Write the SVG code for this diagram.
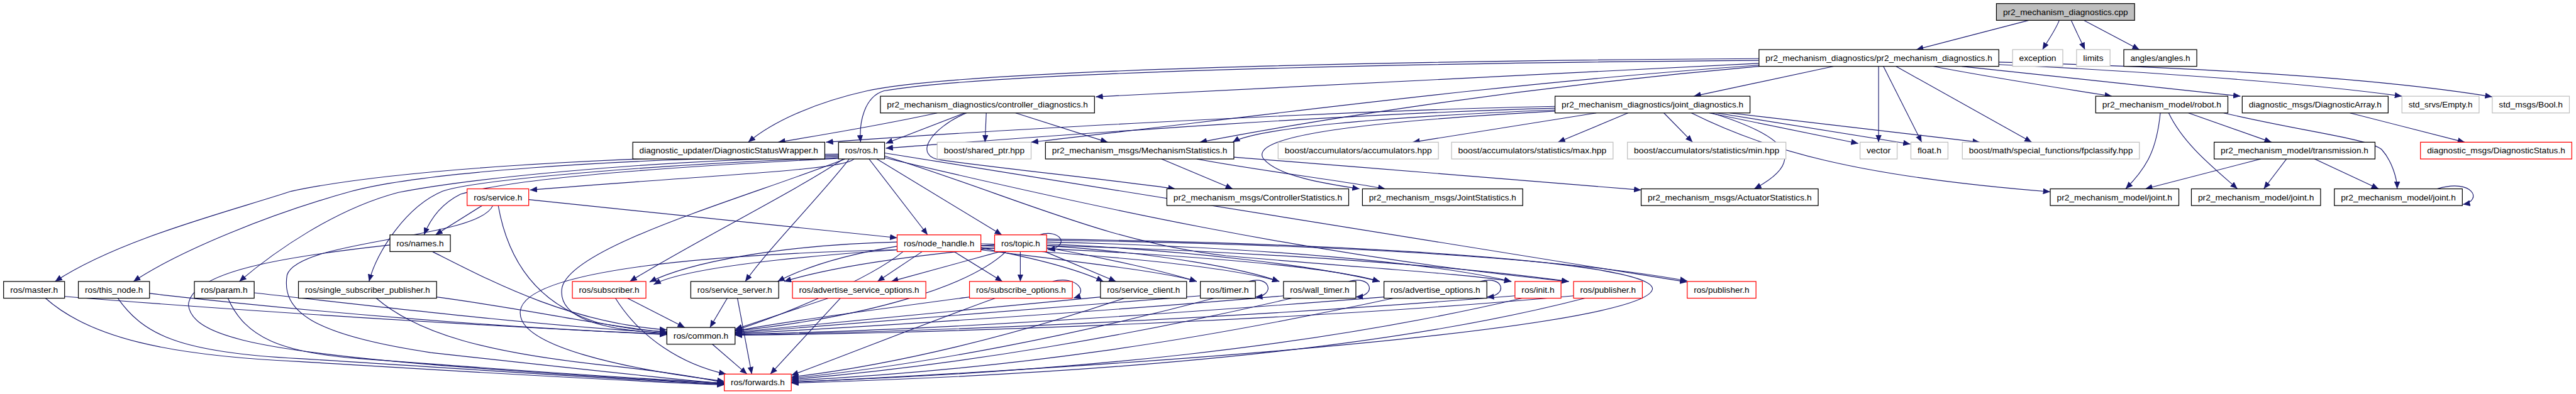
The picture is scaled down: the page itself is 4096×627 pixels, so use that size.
<svg xmlns="http://www.w3.org/2000/svg" width="4096" height="627" viewBox="0 0 4096 627">
<style>
.node rect{fill:#fff;stroke:#000;stroke-width:1.3}
.node.g rect{stroke:#bfbfbf}
.node.r rect{stroke:#ff0000}
.node.root rect{fill:#bfbfbf;stroke:#000}
.node text{font-family:"Liberation Sans",Arial,sans-serif;font-size:13.5px;fill:#000;text-anchor:middle}
#edges path{fill:none;stroke:#191970;stroke-width:1.2;marker-end:url(#a)}
</style>
<defs>
<marker id="a" markerUnits="userSpaceOnUse" markerWidth="12" markerHeight="10" viewBox="0 0 12 10" refX="12" refY="5" orient="auto"><path d="M0,0 L12,5 L0,10 z" fill="#191970"/></marker>
</defs>
<rect width="4096" height="627" fill="#fff"/>
<g transform="scale(0.951)">
<g id="edges">
<path d="M3392,34 L3204,83"/>
<path d="M3443,34 C3437,50 3424,68 3415,83"/>
<path d="M3463,34 C3470,50 3479,68 3486,83"/>
<path d="M3484,34 L3577,83"/>
<path d="M2941,98 C2300,102 1600,118 1450,152 C1360,172 1290,205 1251,238"/>
<path d="M2941,101 C2300,106 1650,122 1478,152 C1445,162 1436,205 1439,238"/>
<path d="M2941,106 L1832,162"/>
<path d="M3066,111 L2832,161"/>
<path d="M3141,111 L3141,238"/>
<path d="M3149,111 L3213,238"/>
<path d="M3170,111 L3397,238"/>
<path d="M3232,111 C3330,130 3460,150 3531,161"/>
<path d="M3280,111 L3746,161"/>
<path d="M3342,108 C3560,118 3850,138 4016,161"/>
<path d="M3342,104 C3650,112 3960,128 4167,162"/>
<path d="M2941,109 C2500,140 2100,195 1724,238"/>
<path d="M2941,111 C2500,150 2150,210 2006,238"/>
<path d="M1567,189 C1480,208 1380,225 1301,238"/>
<path d="M1613,189 L1481,240"/>
<path d="M1649,189 L1647,238"/>
<path d="M1698,189 L1852,238"/>
<path d="M1616,189 C1555,215 1525,262 1575,268 C1700,285 1850,300 1965,316"/>
<path d="M2600,178 C2200,186 1600,222 1381,238"/>
<path d="M2600,181 C2200,192 1700,232 1481,248"/>
<path d="M2600,184 C2300,196 2100,215 2061,238"/>
<path d="M2600,186 C2250,205 2090,230 2112,265 C2135,295 2220,308 2273,316"/>
<path d="M2669,189 L2362,238"/>
<path d="M2722,189 L2605,238"/>
<path d="M2782,189 L2830,238"/>
<path d="M2858,189 L3107,240"/>
<path d="M2870,189 L3194,241"/>
<path d="M2892,189 L3310,238"/>
<path d="M2862,189 C3010,235 3010,275 2933,316"/>
<path d="M2828,189 C2950,250 3100,295 3428,321"/>
<path d="M1942,266 L2061,316"/>
<path d="M2001,266 C2100,285 2250,303 2316,316"/>
<path d="M2063,263 C2300,282 2600,305 2744,318"/>
<path d="M3612,189 C3606,250 3590,280 3554,316"/>
<path d="M3626,189 C3650,240 3700,280 3741,316"/>
<path d="M3659,189 L3798,238"/>
<path d="M3718,189 C3850,220 3960,232 3982,250 C4000,270 4008,300 4008,316"/>
<path d="M3929,189 L4121,238"/>
<path d="M3780,266 L3587,316"/>
<path d="M3823,266 L3785,316"/>
<path d="M3870,266 L3977,316"/>
<path d="M4075,316 C4135,298 4152,336 4118,342"/>
<path d="M1428,266 C1410,285 1200,292 886,318"/>
<path d="M1404,265 C1100,280 850,300 770,325 C740,340 720,365 709,393"/>
<path d="M1402,258 C1000,262 650,285 487,320 C380,355 200,400 92,471"/>
<path d="M1402,260 C1000,266 700,290 588,320 C450,358 300,420 223,471"/>
<path d="M1402,262 C1050,270 780,300 666,322 C560,350 460,420 400,471"/>
<path d="M1402,264 C1100,275 800,300 740,320 C680,345 630,420 617,471"/>
<path d="M1410,266 C1330,320 1150,410 1053,471"/>
<path d="M1420,266 C1370,330 1290,410 1246,471"/>
<path d="M1413,266 C1250,330 960,410 940,480 C930,530 1000,552 1115,558"/>
<path d="M1453,266 L1551,393"/>
<path d="M1466,266 L1675,393"/>
<path d="M1479,261 C1700,330 1850,405 2050,428 C2300,450 2450,458 2527,471"/>
<path d="M1479,264 C1800,340 2200,430 2623,471"/>
<path d="M1479,256 L2821,472"/>
<path d="M806,344 L728,393"/>
<path d="M884,334 L1500,398"/>
<path d="M833,344 C850,440 900,510 1000,540 C1050,550 1080,554 1115,555"/>
<path d="M824,344 C800,400 500,400 480,460 C470,520 520,560 720,590 C900,610 1100,632 1211,642"/>
<path d="M723,421 C820,470 950,540 1115,552"/>
<path d="M652,410 C470,430 320,455 315,510 C320,560 420,585 720,610 C900,625 1100,636 1211,643"/>
<path d="M1542,421 L1467,471"/>
<path d="M1595,421 L1676,471"/>
<path d="M1500,405 C1300,410 1150,440 1086,472"/>
<path d="M1500,412 C1420,425 1350,445 1300,471"/>
<path d="M1640,415 C1720,430 1800,450 1845,471"/>
<path d="M1640,418 C1800,438 1950,455 2001,471"/>
<path d="M1640,414 C1850,428 2050,445 2139,471"/>
<path d="M1640,411 C1900,422 2200,440 2307,471"/>
<path d="M1640,408 C2000,415 2400,440 2623,471"/>
<path d="M1510,421 C1450,470 1300,530 1229,553"/>
<path d="M1500,418 C1200,425 880,450 870,520 C862,580 1050,618 1211,638"/>
<path d="M1738,393 C1772,382 1792,412 1752,418"/>
<path d="M1706,421 L1706,471"/>
<path d="M1672,421 L1490,471"/>
<path d="M1663,410 C1400,420 1150,445 1093,476"/>
<path d="M1663,415 C1500,430 1380,450 1311,471"/>
<path d="M1747,421 L1866,471"/>
<path d="M1750,414 C1850,432 1950,455 2001,471"/>
<path d="M1750,411 C1950,425 2080,450 2139,471"/>
<path d="M1750,408 C2000,420 2200,445 2307,471"/>
<path d="M1750,405 C2100,413 2400,440 2527,471"/>
<path d="M1750,402 C2200,408 2600,430 2821,470"/>
<path d="M1682,421 C1620,480 1450,530 1229,554"/>
<path d="M1750,400 C2300,408 2760,440 2763,483 C2760,530 2300,590 1323,640"/>
<path d="M108,496 C400,520 800,545 1115,560"/>
<path d="M76,499 C150,565 280,595 500,605 C750,620 1000,636 1211,644"/>
<path d="M250,491 C500,520 850,550 1115,559"/>
<path d="M197,499 C240,560 300,590 500,600 C750,615 1000,634 1211,643"/>
<path d="M425,490 C650,515 900,545 1115,557"/>
<path d="M381,499 C410,565 470,590 600,600 C800,615 1000,630 1211,641"/>
<path d="M730,497 C900,520 1000,545 1115,556"/>
<path d="M629,499 C700,560 820,590 1000,610 C1100,620 1160,630 1211,640"/>
<path d="M1049,499 L1145,548"/>
<path d="M1029,499 C1070,565 1140,610 1214,626"/>
<path d="M1216,499 L1187,548"/>
<path d="M1233,499 L1257,626"/>
<path d="M1385,499 L1229,551"/>
<path d="M1405,499 L1288,626"/>
<path d="M1760,471 C1800,460 1822,490 1795,499"/>
<path d="M1621,497 C1450,520 1300,540 1229,554"/>
<path d="M1664,499 C1550,540 1400,600 1323,628"/>
<path d="M1840,497 C1600,520 1350,545 1229,556"/>
<path d="M1880,499 C1700,560 1500,610 1323,631"/>
<path d="M2088,471 C2125,460 2132,495 2099,497"/>
<path d="M2007,495 C1700,520 1400,545 1229,557"/>
<path d="M2030,499 C1800,560 1550,610 1323,633"/>
<path d="M2255,471 C2295,460 2302,495 2267,497"/>
<path d="M2146,495 C1800,525 1400,550 1229,558"/>
<path d="M2160,499 C1900,560 1600,612 1323,635"/>
<path d="M2475,471 C2515,460 2522,495 2486,497"/>
<path d="M2314,497 C1900,530 1500,555 1229,559"/>
<path d="M2330,499 C2000,570 1700,617 1323,637"/>
<path d="M2533,495 C2100,530 1600,555 1229,560"/>
<path d="M2545,499 C2200,580 1800,622 1323,639"/>
<path d="M2631,495 C2200,535 1600,557 1229,561"/>
<path d="M2650,499 C2300,590 1800,627 1323,641"/>
<path d="M1191,576 L1249,626"/>
</g>
<g id="n_root" class="node root"><rect x="3338" y="6" width="231" height="28"/><text x="3453.5" y="25" textLength="209" lengthAdjust="spacingAndGlyphs">pr2_mechanism_diagnostics.cpp</text></g>
<g id="n_pr2md" class="node"><rect x="2941" y="83" width="401" height="28"/><text x="3141.5" y="102" textLength="379" lengthAdjust="spacingAndGlyphs">pr2_mechanism_diagnostics/pr2_mechanism_diagnostics.h</text></g>
<g id="n_exception" class="node g"><rect x="3365" y="83" width="84" height="28"/><text x="3407" y="102" textLength="62" lengthAdjust="spacingAndGlyphs">exception</text></g>
<g id="n_limits" class="node g"><rect x="3472" y="83" width="56" height="28"/><text x="3500" y="102" textLength="34" lengthAdjust="spacingAndGlyphs">limits</text></g>
<g id="n_angles" class="node"><rect x="3551" y="83" width="122" height="28"/><text x="3612" y="102" textLength="100" lengthAdjust="spacingAndGlyphs">angles/angles.h</text></g>
<g id="n_controller_diag" class="node"><rect x="1472" y="161" width="358" height="28"/><text x="1651" y="180" textLength="336" lengthAdjust="spacingAndGlyphs">pr2_mechanism_diagnostics/controller_diagnostics.h</text></g>
<g id="n_joint_diag" class="node"><rect x="2600" y="161" width="326" height="28"/><text x="2763" y="180" textLength="304" lengthAdjust="spacingAndGlyphs">pr2_mechanism_diagnostics/joint_diagnostics.h</text></g>
<g id="n_robot" class="node"><rect x="3504" y="161" width="221" height="28"/><text x="3614.5" y="180" textLength="199" lengthAdjust="spacingAndGlyphs">pr2_mechanism_model/robot.h</text></g>
<g id="n_diagarray" class="node"><rect x="3749" y="161" width="244" height="28"/><text x="3871" y="180" textLength="222" lengthAdjust="spacingAndGlyphs">diagnostic_msgs/DiagnosticArray.h</text></g>
<g id="n_empty" class="node g"><rect x="4016" y="161" width="129" height="28"/><text x="4080.5" y="180" textLength="107" lengthAdjust="spacingAndGlyphs">std_srvs/Empty.h</text></g>
<g id="n_bool" class="node g"><rect x="4167" y="161" width="129" height="28"/><text x="4231.5" y="180" textLength="107" lengthAdjust="spacingAndGlyphs">std_msgs/Bool.h</text></g>
<g id="n_dsw" class="node"><rect x="1058" y="238" width="321" height="28"/><text x="1218.5" y="257" textLength="299" lengthAdjust="spacingAndGlyphs">diagnostic_updater/DiagnosticStatusWrapper.h</text></g>
<g id="n_ros" class="node"><rect x="1402" y="238" width="77" height="28"/><text x="1440.5" y="257" textLength="55" lengthAdjust="spacingAndGlyphs">ros/ros.h</text></g>
<g id="n_shared_ptr" class="node g"><rect x="1567" y="238" width="157" height="28"/><text x="1645.5" y="257" textLength="135" lengthAdjust="spacingAndGlyphs">boost/shared_ptr.hpp</text></g>
<g id="n_mechstats" class="node"><rect x="1748" y="238" width="315" height="28"/><text x="1905.5" y="257" textLength="293" lengthAdjust="spacingAndGlyphs">pr2_mechanism_msgs/MechanismStatistics.h</text></g>
<g id="n_accumulators" class="node g"><rect x="2137" y="238" width="268" height="28"/><text x="2271" y="257" textLength="246" lengthAdjust="spacingAndGlyphs">boost/accumulators/accumulators.hpp</text></g>
<g id="n_max" class="node g"><rect x="2427" y="238" width="270" height="28"/><text x="2562" y="257" textLength="248" lengthAdjust="spacingAndGlyphs">boost/accumulators/statistics/max.hpp</text></g>
<g id="n_min" class="node g"><rect x="2721" y="238" width="265" height="28"/><text x="2853.5" y="257" textLength="243" lengthAdjust="spacingAndGlyphs">boost/accumulators/statistics/min.hpp</text></g>
<g id="n_vector" class="node g"><rect x="3110" y="238" width="62" height="28"/><text x="3141" y="257" textLength="40" lengthAdjust="spacingAndGlyphs">vector</text></g>
<g id="n_float" class="node g"><rect x="3195" y="238" width="62" height="28"/><text x="3226" y="257" textLength="40" lengthAdjust="spacingAndGlyphs">float.h</text></g>
<g id="n_fpclassify" class="node g"><rect x="3281" y="238" width="296" height="28"/><text x="3429" y="257" textLength="274" lengthAdjust="spacingAndGlyphs">boost/math/special_functions/fpclassify.hpp</text></g>
<g id="n_transmission" class="node"><rect x="3702" y="238" width="269" height="28"/><text x="3836.5" y="257" textLength="247" lengthAdjust="spacingAndGlyphs">pr2_mechanism_model/transmission.h</text></g>
<g id="n_diagstatus" class="node r"><rect x="4047" y="238" width="253" height="28"/><text x="4173.5" y="257" textLength="231" lengthAdjust="spacingAndGlyphs">diagnostic_msgs/DiagnosticStatus.h</text></g>
<g id="n_ctrlstats" class="node"><rect x="1951" y="316" width="304" height="28"/><text x="2103" y="335" textLength="282" lengthAdjust="spacingAndGlyphs">pr2_mechanism_msgs/ControllerStatistics.h</text></g>
<g id="n_jointstats" class="node"><rect x="2278" y="316" width="268" height="28"/><text x="2412" y="335" textLength="246" lengthAdjust="spacingAndGlyphs">pr2_mechanism_msgs/JointStatistics.h</text></g>
<g id="n_actstats" class="node"><rect x="2744" y="316" width="296" height="28"/><text x="2892" y="335" textLength="274" lengthAdjust="spacingAndGlyphs">pr2_mechanism_msgs/ActuatorStatistics.h</text></g>
<g id="n_joint1" class="node"><rect x="3428" y="316" width="215" height="28"/><text x="3535.5" y="335" textLength="193" lengthAdjust="spacingAndGlyphs">pr2_mechanism_model/joint.h</text></g>
<g id="n_joint2" class="node"><rect x="3664" y="316" width="216" height="28"/><text x="3772" y="335" textLength="194" lengthAdjust="spacingAndGlyphs">pr2_mechanism_model/joint.h</text></g>
<g id="n_joint3" class="node"><rect x="3903" y="316" width="214" height="28"/><text x="4010" y="335" textLength="192" lengthAdjust="spacingAndGlyphs">pr2_mechanism_model/joint.h</text></g>
<g id="n_service" class="node r"><rect x="781" y="316" width="103" height="28"/><text x="832.5" y="335" textLength="81" lengthAdjust="spacingAndGlyphs">ros/service.h</text></g>
<g id="n_names" class="node"><rect x="652" y="393" width="101" height="28"/><text x="702.5" y="412" textLength="79" lengthAdjust="spacingAndGlyphs">ros/names.h</text></g>
<g id="n_node_handle" class="node r"><rect x="1500" y="393" width="140" height="28"/><text x="1570" y="412" textLength="118" lengthAdjust="spacingAndGlyphs">ros/node_handle.h</text></g>
<g id="n_topic" class="node r"><rect x="1663" y="393" width="87" height="28"/><text x="1706.5" y="412" textLength="65" lengthAdjust="spacingAndGlyphs">ros/topic.h</text></g>
<g id="n_master" class="node"><rect x="6" y="471" width="102" height="28"/><text x="57" y="490" textLength="80" lengthAdjust="spacingAndGlyphs">ros/master.h</text></g>
<g id="n_this_node" class="node"><rect x="131" y="471" width="119" height="28"/><text x="190.5" y="490" textLength="97" lengthAdjust="spacingAndGlyphs">ros/this_node.h</text></g>
<g id="n_param" class="node"><rect x="325" y="471" width="100" height="28"/><text x="375" y="490" textLength="78" lengthAdjust="spacingAndGlyphs">ros/param.h</text></g>
<g id="n_single_sub" class="node"><rect x="499" y="471" width="231" height="28"/><text x="614.5" y="490" textLength="209" lengthAdjust="spacingAndGlyphs">ros/single_subscriber_publisher.h</text></g>
<g id="n_subscriber" class="node r"><rect x="957" y="471" width="123" height="28"/><text x="1018.5" y="490" textLength="101" lengthAdjust="spacingAndGlyphs">ros/subscriber.h</text></g>
<g id="n_service_server" class="node"><rect x="1155" y="471" width="147" height="28"/><text x="1228.5" y="490" textLength="125" lengthAdjust="spacingAndGlyphs">ros/service_server.h</text></g>
<g id="n_adv_srv_opts" class="node r"><rect x="1325" y="471" width="223" height="28"/><text x="1436.5" y="490" textLength="201" lengthAdjust="spacingAndGlyphs">ros/advertise_service_options.h</text></g>
<g id="n_subscribe_opts" class="node r"><rect x="1621" y="471" width="172" height="28"/><text x="1707" y="490" textLength="150" lengthAdjust="spacingAndGlyphs">ros/subscribe_options.h</text></g>
<g id="n_service_client" class="node"><rect x="1840" y="471" width="144" height="28"/><text x="1912" y="490" textLength="122" lengthAdjust="spacingAndGlyphs">ros/service_client.h</text></g>
<g id="n_timer" class="node"><rect x="2007" y="471" width="92" height="28"/><text x="2053" y="490" textLength="70" lengthAdjust="spacingAndGlyphs">ros/timer.h</text></g>
<g id="n_wall_timer" class="node"><rect x="2146" y="471" width="121" height="28"/><text x="2206.5" y="490" textLength="99" lengthAdjust="spacingAndGlyphs">ros/wall_timer.h</text></g>
<g id="n_adv_opts" class="node"><rect x="2314" y="471" width="172" height="28"/><text x="2400" y="490" textLength="150" lengthAdjust="spacingAndGlyphs">ros/advertise_options.h</text></g>
<g id="n_init" class="node r"><rect x="2533" y="471" width="77" height="28"/><text x="2571.5" y="490" textLength="55" lengthAdjust="spacingAndGlyphs">ros/init.h</text></g>
<g id="n_publisher1" class="node r"><rect x="2631" y="471" width="115" height="28"/><text x="2688.5" y="490" textLength="93" lengthAdjust="spacingAndGlyphs">ros/publisher.h</text></g>
<g id="n_publisher2" class="node r"><rect x="2821" y="471" width="115" height="28"/><text x="2878.5" y="490" textLength="93" lengthAdjust="spacingAndGlyphs">ros/publisher.h</text></g>
<g id="n_common" class="node"><rect x="1115" y="548" width="114" height="28"/><text x="1172" y="567" textLength="92" lengthAdjust="spacingAndGlyphs">ros/common.h</text></g>
<g id="n_forwards" class="node r"><rect x="1211" y="626" width="112" height="28"/><text x="1267" y="645" textLength="90" lengthAdjust="spacingAndGlyphs">ros/forwards.h</text></g>
</g>
</svg>
